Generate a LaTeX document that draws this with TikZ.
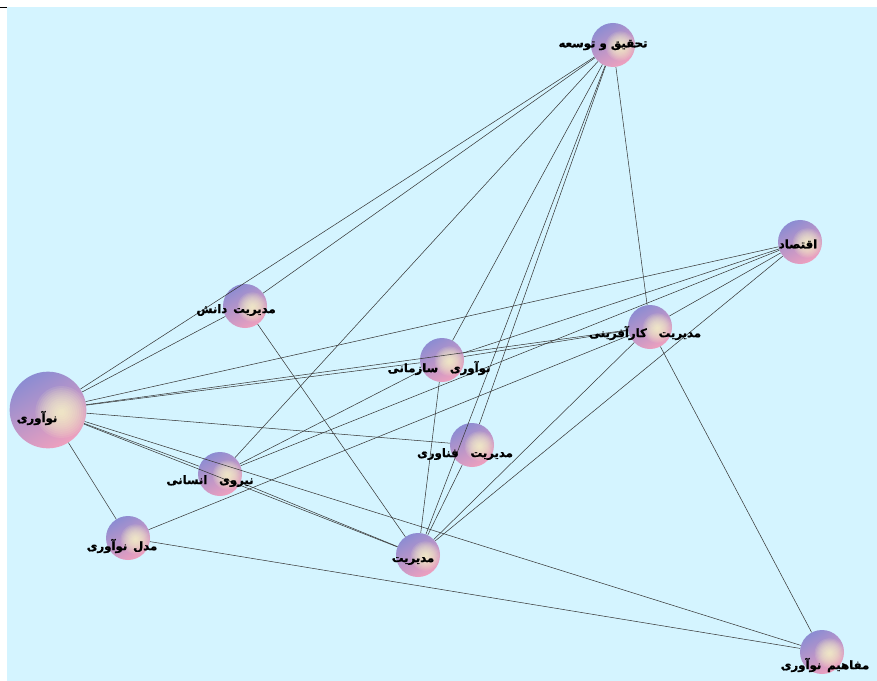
\documentclass[tikz,border=0pt]{standalone}
\usepackage{fontspec}
\usepackage{tikz}
\newfontfamily\arabicfont[Script=Arabic, FakeBold=1.2]{DejaVu Sans Bold}
\TeXXeTstate=1
\definecolor{bgcyan}{RGB}{212,244,255}
\definecolor{orbtop}{RGB}{140,140,210}
\definecolor{orbbot}{RGB}{238,160,190}
\definecolor{orbspot}{RGB}{255,255,200}
\definecolor{edgegray}{RGB}{55,55,55}
\tikzstyle{orb}   = [circle, inner sep=0pt, minimum size=1.32cm, top color=orbtop, bottom color=orbbot, shading angle=30,
                     path picture={\foreach \k in {0,...,11}
                       \fill[orbspot, opacity=0.11]
                       ([shift={(0.22cm,-0.03cm)}]path picture bounding box.center) circle ({0.44cm-0.035cm*\k});}]
\tikzstyle{bigorb}= [orb, minimum size=2.3cm,
                     path picture={\foreach \k in {0,...,11}
                       \fill[orbspot, opacity=0.11]
                       ([shift={(0.4cm,-0.06cm)}]path picture bounding box.center) circle ({0.78cm-0.062cm*\k});}]
\tikzstyle{label} = [font=\arabicfont\fontsize{10}{12}\selectfont, inner sep=0pt, text=black]
\tikzstyle{edge}  = [draw=edgegray, line width=0.45pt]

\begin{document}
\begin{tikzpicture}[x=0.03cm, y=-0.03cm]
    \useasboundingbox (0,0) rectangle (877,681);
    \fill[bgcyan] (7,7) rectangle (877,681);
    \draw[black, line width=0.8pt] (0,7) -- (7,7);

    % spheres
    \node (rd)  at (613, 45)  [orb]    {};
    \node (ec)  at (800,242)  [orb]    {};
    \node (em)  at (650,327)  [orb]    {};
    \node (km)  at (245,306)  [orb]    {};
    \node (oi)  at (442,360)  [orb]    {};
    \node (tm)  at (472,445)  [orb]    {};
    \node (inn) at ( 48,410)  [bigorb] {};
    \node (hr)  at (220,474)  [orb]    {};
    \node (mi)  at (128,538)  [orb]    {};
    \node (mg)  at (418,555)  [orb]    {};
    \node (mc)  at (822,652)  [orb]    {};

    % links
    \draw [edge] (rd) -- (km);
    \draw [edge] (rd) -- (inn);
    \draw [edge] (rd) -- (hr);
    \draw [edge] (rd) -- (oi);
    \draw [edge] (rd) -- (tm);
    \draw [edge] (rd) -- (mg);
    \draw [edge] (rd) -- (em);
    \draw [edge] (ec) -- (inn);
    \draw [edge] (ec) -- (oi);
    \draw [edge] (ec) -- (hr);
    \draw [edge] (ec) -- (mg);
    \draw [edge] (ec) -- (em);
    \draw [edge] (em) -- (mc);
    \draw [edge] (em) -- (mg);
    \draw [edge] (em) -- (inn);
    \draw [edge] (em) -- (oi);
    \draw [edge] (em) -- (mi);
    \draw [edge] (inn) -- (km);
    \draw [edge] (inn) -- (oi);
    \draw [edge] (inn) -- (tm);
    \draw [edge] (inn) -- (hr);
    \draw [edge] (inn) -- (mg);
    \draw [edge] (inn) -- (mc);
    \draw [edge] (inn) -- (mi);
    \draw [edge] (km) -- (mg);
    \draw [edge] (oi) -- (mg);
    \draw [edge] (oi) -- (hr);
    \draw [edge] (tm) -- (mg);
    \draw [edge] (mi) -- (mc);
    \draw [edge] (hr) -- (mg);

    % labels
    \node (rdl)  at (603, 45) [label] {\beginR تحقیق و توسعه\endR};
    \node (ecl)  at (798,244) [label] {\beginR اقتصاد\endR};
    \node (eml)  at (645,333) [label] {\beginR مدیریت\quad کارآفرینی\endR};
    \node (kml)  at (236,310) [label] {\beginR مدیریت\enspace دانش\endR};
    \node (oil)  at (439,368) [label] {\beginR نوآوری\quad سازمانی\endR};
    \node (tml)  at (465,454) [label] {\beginR مدیریت\quad فناوری\endR};
    \node (innl) at ( 37,418) [label] {\beginR نوآوری\endR};
    \node (hrl)  at (210,481) [label] {\beginR نیروی\quad انسانی\endR};
    \node (mil)  at (122,546) [label] {\beginR مدل\enspace نوآوری\endR};
    \node (mgl)  at (413,561) [label] {\beginR مدیریت\endR};
    \node (mcl)  at (825,665) [label] {\beginR مفاهیم\enspace نوآوری\endR};
\end{tikzpicture}
\end{document}
